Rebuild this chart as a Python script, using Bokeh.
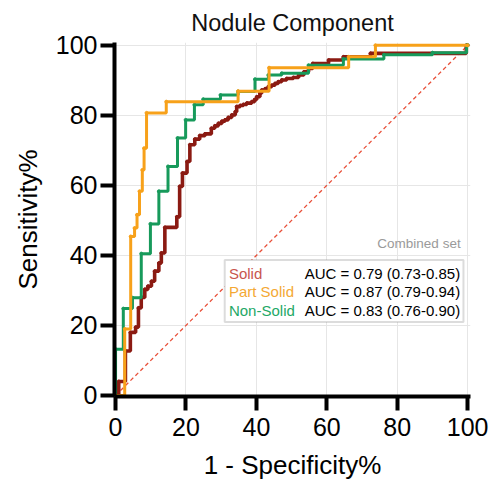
from bokeh.plotting import figure
from bokeh.models import Range1d, BoxAnnotation, Label, FixedTicker
from bokeh.embed import file_html
from bokeh.resources import INLINE

title_text = "Nodule Component"
x_label = "1 - Specificity%"
y_label = "Sensitivity%"
tick_values = [0, 20, 40, 60, 80, 100]

# ROC points (1-specificity %, sensitivity %), step "after"
solid_x = [0, 0.9, 2.8, 4.2, 5.7, 6.5, 7.3, 8.3, 9.2, 10.2, 11.1, 12.3, 13.0, 14.0,
           17.4, 18.2, 19.0, 20.3, 21.1, 22.5, 23.9, 25.4, 27.2, 28.2, 29.2, 30.2,
           31.1, 32.0, 33.0, 34.0, 34.4, 35.4, 36.3, 37.3, 38.7, 39.5, 40.1, 41.0,
           41.5, 42.5, 43.4, 44.4, 45.3, 46.2, 47.2, 48.6, 50.5, 52.0, 53.5, 54.8,
           56.0, 60.5, 64.7, 72.4, 99.6, 100]
solid_y = [0, 4.0, 12.7, 18.0, 19.5, 25.0, 28.0, 30.3, 31.2, 32.6, 35.5, 37.8, 40.7, 48.0,
           51.0, 59.7, 63.5, 66.8, 71.6, 73.2, 74.2, 74.7, 76.3, 77.0, 77.7, 78.3,
           78.7, 79.4, 80.1, 81.0, 82.5, 82.8, 83.1, 83.5, 83.9, 84.5, 85.3, 86.3,
           87.2, 87.6, 88.2, 88.6, 89.1, 89.6, 90.1, 90.5, 90.8, 91.5, 92.4, 93.4,
           94.8, 95.8, 96.7, 97.7, 100, 100]

part_x = [0, 2.6, 4.3, 5.4, 6.1, 6.8, 7.6, 8.1, 8.8, 14.4, 34.8, 43.6, 66.2, 73.8, 100]
part_y = [0, 19.0, 45.4, 47.8, 51.6, 58.3, 64.4, 70.6, 80.7, 83.9, 86.9, 93.6, 96.7, 100, 100]

non_x = [0, 2.2, 4.8, 7.3, 9.9, 12.3, 14.9, 17.6, 19.9, 22.4, 24.9, 29.8, 34.8, 39.6,
         43.4, 47.2, 54.8, 64.7, 76.2, 90.0, 99.7, 100]
non_y = [13.2, 24.8, 27.9, 40.5, 49.0, 58.3, 65.4, 73.5, 78.7, 83.0, 84.6, 85.8, 86.8, 90.3,
         91.5, 92.0, 94.3, 96.1, 97.3, 97.9, 100, 100]

diag_x = [0, 100]
diag_y = [0, 100]

series_names = ["Solid", "Part Solid", "Non-Solid"]
auc_texts = ["AUC = 0.79 (0.73-0.85)", "AUC = 0.87 (0.79-0.94)", "AUC = 0.83 (0.76-0.90)"]
subset_label = "Combined set"

line_colors = ["#8b1a12", "#f7a11a", "#179a5b"]
text_colors = ["#c8564e", "#f4a834", "#23a866"]
FONT = "Liberation Sans"

p = figure(width=493, height=483, output_backend="svg", toolbar_location=None,
           x_range=Range1d(-0.3, 100.8), y_range=Range1d(-0.3, 100.8),
           title=title_text,
           min_border_left=114, min_border_right=23,
           min_border_top=41, min_border_bottom=87)
p.outline_line_color = None
p.background_fill_color = "white"

p.title.text_font = FONT
p.title.text_font_size = "23.5px"
p.title.text_font_style = "normal"
p.title.text_color = "#111111"
p.title.align = "center"
p.title.standoff = 14

for ax in (p.xaxis[0], p.yaxis[0]):
    ax.ticker = FixedTicker(ticks=tick_values)
    ax.axis_line_width = 4
    ax.axis_line_color = "black"
    ax.major_tick_line_width = 4
    ax.major_tick_line_color = "black"
    ax.major_tick_out = 14
    ax.major_tick_in = 0
    ax.minor_tick_line_color = None
    ax.major_label_text_font = FONT
    ax.major_label_text_font_size = "25px"
    ax.major_label_text_color = "black"
    ax.axis_label_text_font = FONT
    ax.axis_label_text_font_size = "26px"
    ax.axis_label_text_font_style = "normal"
    ax.axis_label_text_color = "black"
p.xaxis.axis_label = x_label
p.yaxis.axis_label = y_label
p.xaxis.major_label_standoff = 7
p.yaxis.major_label_standoff = 3
p.xaxis.axis_label_standoff = 11
p.yaxis.axis_label_standoff = 10

p.xgrid.ticker = FixedTicker(ticks=tick_values)
p.ygrid.ticker = FixedTicker(ticks=tick_values)
p.grid.grid_line_color = "#e6e6e6"
p.grid.grid_line_width = 1

p.line(diag_x, diag_y, line_color="#e8503a", line_width=1.3, line_dash="4 3")

p.step(solid_x, solid_y, mode="after", line_color=line_colors[0], line_width=3.6)
p.scatter(solid_x, solid_y, size=3, color=line_colors[0])
p.step(non_x, non_y, mode="after", line_color=line_colors[2], line_width=3)
p.scatter(non_x, non_y, size=3, color=line_colors[2])
p.line([0, 0], [0, non_y[0]], line_color=line_colors[2], line_width=3)
p.step(part_x, part_y, mode="after", line_color=line_colors[1], line_width=3)
p.scatter(part_x, part_y, size=3, color=line_colors[1])

box = BoxAnnotation(left=31.0, right=98.8, bottom=21.0, top=38.7,
                    fill_color="white", fill_alpha=1.0,
                    line_color="#8c8c8c", line_width=2)
p.add_layout(box)

for i, (name, auc) in enumerate(zip(series_names, auc_texts)):
    yy = 34.9 - i * 5.3
    p.add_layout(Label(x=32.2, y=yy, text=name, text_baseline="middle",
                       text_font=FONT, text_font_size="15px", text_color=text_colors[i]))
    p.add_layout(Label(x=53.7, y=yy, text=auc, text_baseline="middle",
                       text_font=FONT, text_font_size="15px", text_color="black"))

p.add_layout(Label(x=98.0, y=43.3, text=subset_label, text_align="right",
                   text_baseline="middle", text_font=FONT, text_font_size="13.5px",
                   text_color="#9a9a9a"))

open("out.html", "w").write(file_html(p, INLINE))
